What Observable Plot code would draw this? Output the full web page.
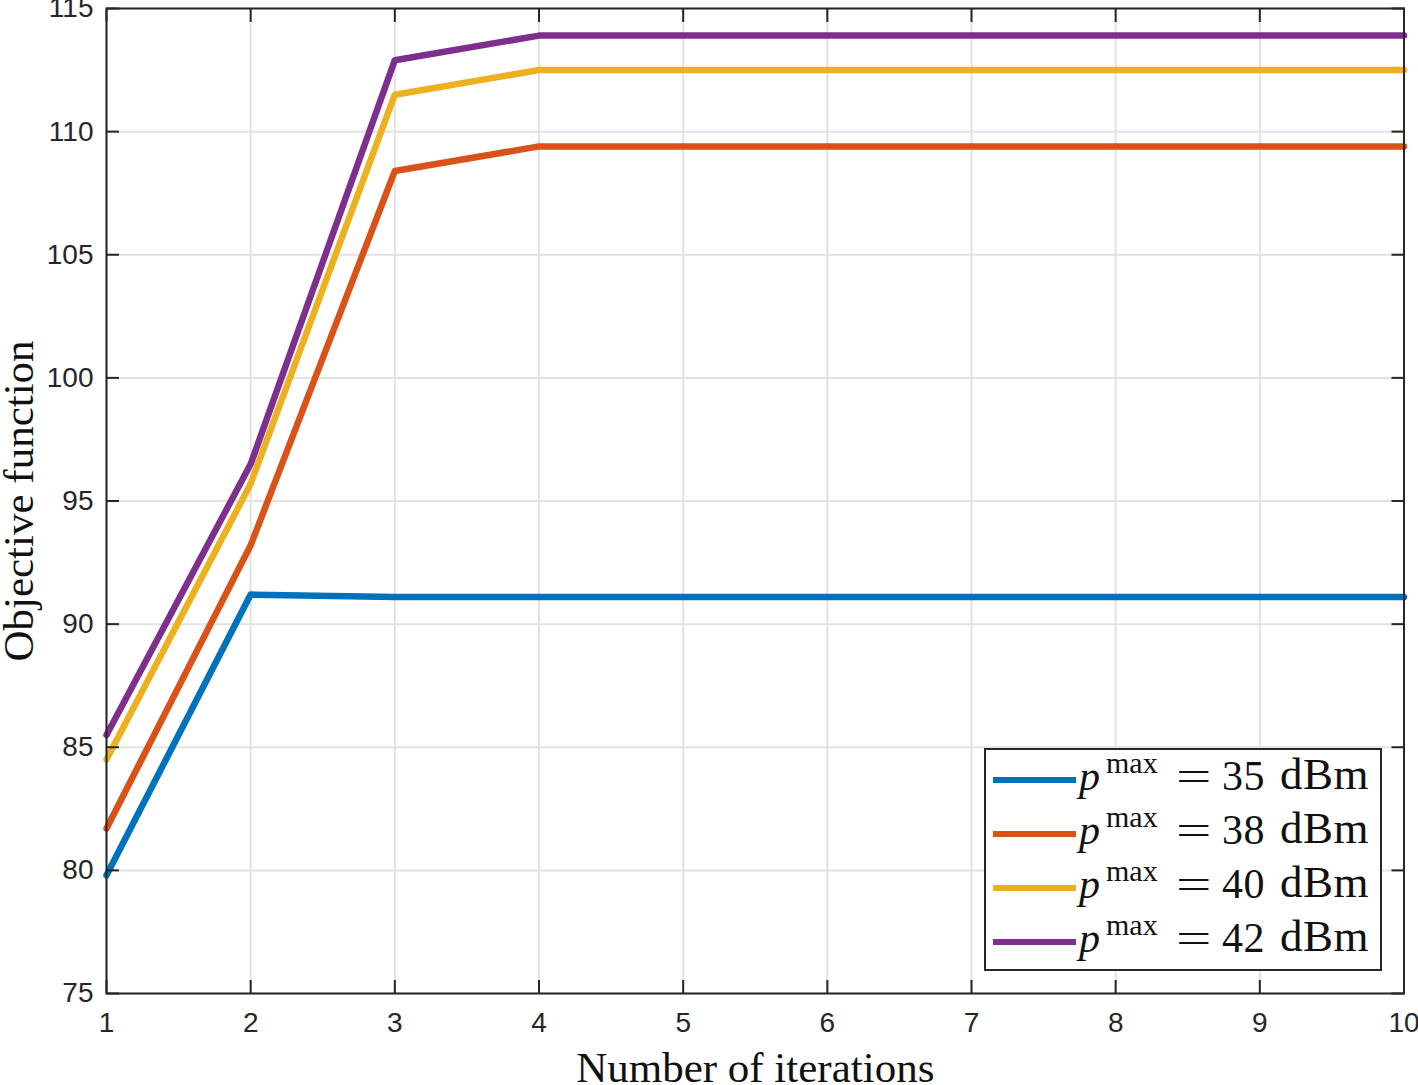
<!DOCTYPE html>
<html>
<head>
<meta charset="utf-8">
<script src="https://cdn.jsdelivr.net/npm/d3@7"></script>
<script src="https://cdn.jsdelivr.net/npm/@observablehq/plot@0.6"></script>
<style>
  html, body { margin: 0; padding: 0; background: #fff; }
  #wrap { position: relative; width: 1418px; height: 1085px; }
  #legend {
    position: absolute; left: 984px; top: 748px; width: 394px; height: 219px;
    border: 2px solid #262626; background: #fff;
    font-family: "Liberation Serif", "DejaVu Serif", serif; color: #111;
  }
  .entry { position: absolute; left: 0; height: 54px; width: 100%; }
  .sw { position: absolute; left: 7px; width: 83px; height: 6px; top: 27px; }
  .t { position: absolute; white-space: nowrap; font-size: 42px; line-height: 42px; top: 4.8px; }
  .p { left: 93px; font-style: italic; }
  .sup { left: 120px; font-size: 30px; line-height: 30px; top: -2px; }
  .eq { left: 190px; transform: scaleX(1.5); transform-origin: left center; }
  .num { left: 236px; letter-spacing: 0.5px; }
  .unit { left: 294px; font-size: 45px; letter-spacing: 0.5px; top: 2.7px; }
</style>
</head>
<body>
<div id="wrap"></div>
<script>
const iterations = [1, 2, 3, 4, 5, 6, 7, 8, 9, 10];
const seriesNames = ["35", "38", "40", "42"];
const seriesColors = ["#0072BD", "#D95319", "#EDB120", "#7E2F8E"];
const p35 = [79.8, 91.2, 91.1, 91.1, 91.1, 91.1, 91.1, 91.1, 91.1, 91.1];
const p38 = [81.7, 93.2, 108.4, 109.4, 109.4, 109.4, 109.4, 109.4, 109.4, 109.4];
const p40 = [84.5, 95.7, 111.5, 112.5, 112.5, 112.5, 112.5, 112.5, 112.5, 112.5];
const p42 = [85.5, 96.5, 112.9, 113.9, 113.9, 113.9, 113.9, 113.9, 113.9, 113.9];
const yTicks = [75, 80, 85, 90, 95, 100, 105, 110, 115];
const xTicks = iterations;

const allSeries = [p35, p38, p40, p42];
const rows = [];
allSeries.forEach((vals, s) => vals.forEach((v, i) => rows.push({s: seriesNames[s], x: iterations[i], y: v})));

const axisColor = "#262626";
const gridColor = "#e2e2e2";

const chart = Plot.plot({
  width: 1418,
  height: 1085,
  marginLeft: 106,
  marginRight: 14.5,
  marginTop: 8,
  marginBottom: 92,
  style: { fontFamily: "'Liberation Sans', Arial, sans-serif", fontSize: "28px", color: axisColor, background: "#fff", overflow: "visible" },
  x: { domain: [1, 10], ticks: xTicks },
  y: { domain: [75, 115], ticks: yTicks },
  color: { domain: seriesNames, range: seriesColors },
  marks: [
    Plot.gridX(xTicks, { stroke: gridColor, strokeOpacity: 1, strokeWidth: 2 }),
    Plot.gridY(yTicks, { stroke: gridColor, strokeOpacity: 1, strokeWidth: 2 }),
    Plot.line(rows, { x: "x", y: "y", z: "s", stroke: "s", strokeWidth: 6.5, strokeLinejoin: "round" }),
    Plot.frame({ stroke: axisColor, strokeWidth: 2 }),
    Plot.axisX(xTicks, { anchor: "bottom", tickSize: -13, tickPadding: 32, tickFormat: d3.format("d"), strokeWidth: 2, stroke: axisColor, fill: axisColor, fontSize: 28, label: null }),
    Plot.axisX(xTicks, { anchor: "top", tickSize: -13, tickFormat: () => "", strokeWidth: 2, stroke: axisColor, label: null }),
    Plot.axisY(yTicks, { anchor: "left", tickSize: -13, tickPadding: 26, tickFormat: d3.format("d"), strokeWidth: 2, stroke: axisColor, fill: axisColor, fontSize: 28, label: null }),
    Plot.axisY(yTicks, { anchor: "right", tickSize: -13, tickFormat: () => "", strokeWidth: 2, stroke: axisColor, label: null }),
    Plot.text(["Number of iterations"], { text: d => d, frameAnchor: "bottom", dy: 75, fontFamily: "'Liberation Serif', serif", fontSize: 43, fill: "#111", lineAnchor: "middle", textAnchor: "middle" }),
    Plot.text(["Objective function"], { text: d => d, frameAnchor: "left", dx: -87, rotate: -90, fontFamily: "'Liberation Serif', serif", fontSize: 43, fill: "#111", lineAnchor: "middle", textAnchor: "middle" })
  ]
});

const wrap = document.getElementById("wrap");
wrap.appendChild(chart);

const legend = document.createElement("div");
legend.id = "legend";
seriesNames.forEach((n, i) => {
  const e = document.createElement("div");
  e.className = "entry";
  e.style.top = (i * 54) + "px";
  e.innerHTML = `<div class="sw" style="background:${seriesColors[i]}"></div>` +
    `<span class="t p">p</span><span class="t sup">max</span><span class="t eq">=</span>` +
    `<span class="t num">${n}</span><span class="t unit">dBm</span>`;
  legend.appendChild(e);
});
wrap.appendChild(legend);
</script>
</body>
</html>
